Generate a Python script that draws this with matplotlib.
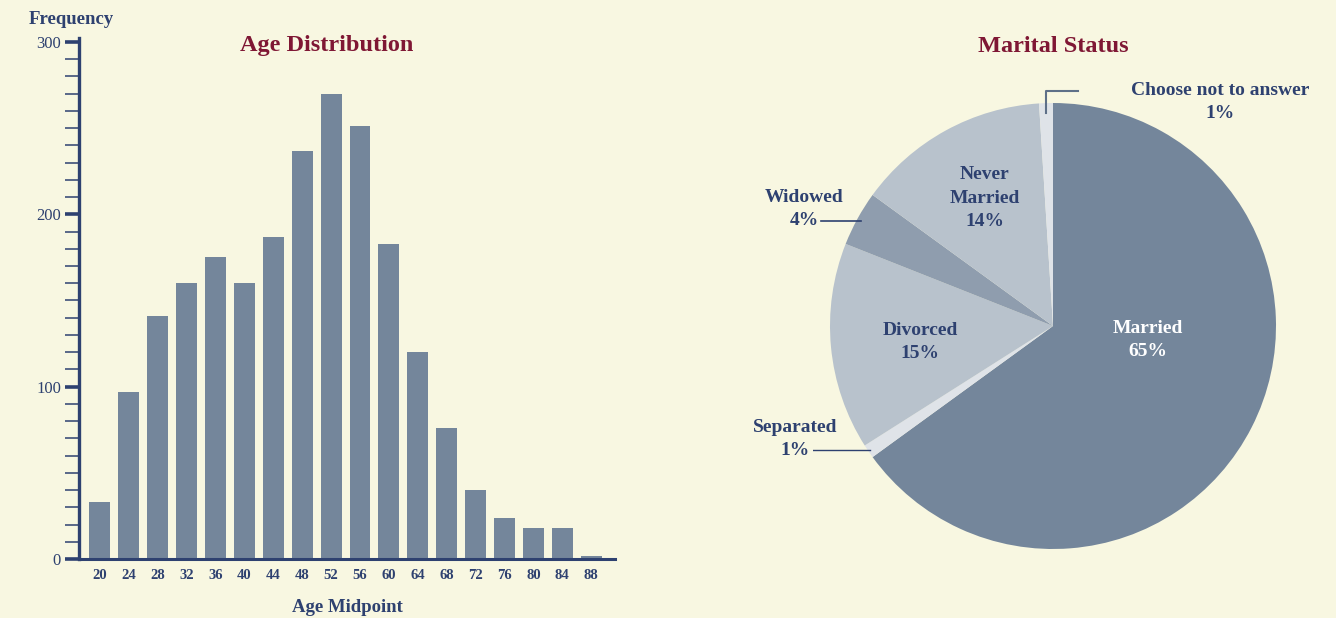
import matplotlib
matplotlib.use('Agg')
import matplotlib.pyplot as plt
import numpy as np
from matplotlib.ticker import MultipleLocator

# 年龄分布数据
age_mid = [20, 24, 28, 32, 36, 40, 44, 48, 52, 56, 60, 64, 68, 72, 76, 80, 84, 88]
freq = [33, 97, 141, 160, 175, 160, 187, 237, 270, 251, 183, 120, 76, 40, 24, 18, 18, 2]

# 婚姻状况数据 (顺时针, 从12点开始)
status = ['Married', 'Separated', 'Divorced', 'Widowed', 'Never\nMarried', 'Choose not to answer']
share = [65, 1, 15, 4, 14, 1]

bg = '#F8F7E1'
navy = '#2E4170'
red = '#7F1734'
bar_col = '#74869B'
pie_cols = ['#74869B', '#DFE3E8', '#B8C2CC', '#8F9DAE', '#B8C2CC', '#DFE3E8']

plt.rcParams['font.family'] = ['Liberation Serif', 'DejaVu Serif']

fig = plt.figure(figsize=(13.36, 6.18), dpi=100, facecolor=bg)
W, H = 1336, 618

# ---------- 柱状图 ----------
ax = fig.add_axes([79 / W, 1 - 559 / H, (615 - 79) / W, (559 - 38) / H])
ax.set_facecolor(bg)
ax.bar(age_mid, freq, width=2.9, color=bar_col)
ax.set_xlim(17.1, 91.3)
ax.set_ylim(0, 302.3)
ax.set_xticks(age_mid)
ax.set_xticklabels([str(a) for a in age_mid], fontsize=10.5, fontweight='bold', color=navy)
ax.tick_params(axis='x', length=0, pad=7)
ax.yaxis.set_major_locator(MultipleLocator(100))
ax.yaxis.set_minor_locator(MultipleLocator(10))
ax.tick_params(axis='y', which='major', length=10, width=2.6, color=navy,
               labelsize=12, labelcolor=navy, pad=3)
ax.tick_params(axis='y', which='minor', length=10, width=1.1, color=navy)
for s in ['top', 'right']:
    ax.spines[s].set_visible(False)
ax.spines['left'].set_linewidth(2.4)
ax.spines['left'].set_color(navy)
ax.spines['bottom'].set_linewidth(2.2)
ax.spines['bottom'].set_color(navy)
ax.set_xlabel('Age Midpoint', fontsize=13.5, fontweight='bold', color=navy, labelpad=12.5)

fig.text(29 / W, 1 - 20 / H, 'Frequency', ha='left', va='center',
         fontsize=13.5, fontweight='bold', color=navy)
fig.text(327 / W, 1 - 46 / H, 'Age Distribution', ha='center', va='center',
         fontsize=17.5, fontweight='bold', color=red)

# ---------- 饼图 ----------
R = 223.0
cx, cy = 1053, 326
pax = fig.add_axes([(cx - 240) / W, 1 - (cy + 240) / H, 480 / W, 480 / H])
pax.set_facecolor(bg)
wedges, _ = pax.pie(share, colors=pie_cols, startangle=90, counterclock=False,
                    radius=1, wedgeprops=dict(linewidth=0))
lim = 240 / R
pax.set_xlim(-lim, lim)
pax.set_ylim(-lim, lim)
pax.set_aspect('equal')
pax.axis('off')

fig.text(cx / W, 1 - 46 / H, 'Marital Status', ha='center', va='center',
         fontsize=17.5, fontweight='bold', color=red)


def mid_pt(w, r, dang=0.0):
    a = np.deg2rad((w.theta1 + w.theta2) / 2 + dang)
    return r * np.cos(a), r * np.sin(a)


lab_kw = dict(ha='center', va='center', fontsize=14, fontweight='bold',
              linespacing=1.5)

# 扇区内标签
inside = {0: (0.43, 18.5), 2: (0.60, 1.4), 4: (0.65, -0.8)}
for i, (r, da) in inside.items():
    x, y = mid_pt(wedges[i], r, da)
    pax.text(x, y, f'{status[i]}\n{share[i]}%',
             color='white' if i == 0 else navy, **lab_kw)

px = 1 / R  # 一个像素在饼图数据坐标中的长度
lc = '#5E7088'

# Widowed
x0, y0 = mid_pt(wedges[3], 0.98)
pax.plot([x0, x0 - 40 * px], [y0, y0], color=navy, lw=1.2)
pax.text(x0 - 57 * px, y0 + 11.5 * px, f'{status[3]}\n{share[3]}%', color=navy, **lab_kw)

# Separated
x0, y0 = mid_pt(wedges[1], 0.99)
pax.plot([x0, x0 - 60 * px], [y0, y0], color=navy, lw=1.0)
pax.text(x0 - 75 * px, y0 + 11 * px, f'{status[1]}\n{share[1]}%', color=navy, **lab_kw)

# Choose not to answer
x0, y0 = mid_pt(wedges[5], 0.955)
pax.plot([x0, x0, x0 + 32 * px], [y0, y0 + 22 * px, y0 + 22 * px], color=lc, lw=1.5)
pax.text(x0 + 174 * px, y0 + 11 * px, f'{status[5]}\n{share[5]}%', color=navy, **lab_kw)

fig.savefig('out.png', dpi=100, facecolor=bg)
